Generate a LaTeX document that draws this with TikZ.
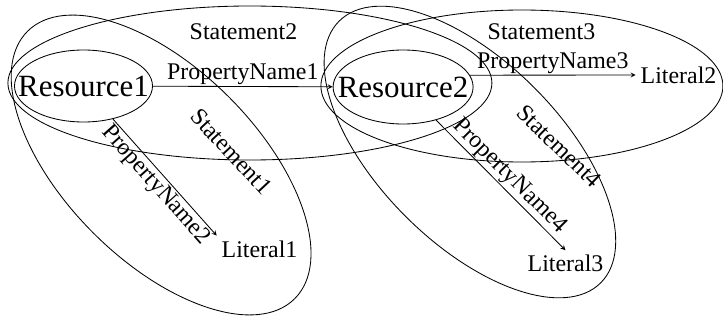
\documentclass[tikz,border=0pt]{standalone}
\usepackage{fontspec}
\setmainfont{Liberation Serif}
\usepackage{tikz}
\usetikzlibrary{shapes.geometric, arrows}
\tikzstyle{res} = [ellipse, minimum width=3.45cm, minimum height=1.8cm, inner xsep=-0.5cm, inner ysep=0pt, draw=black, line width=0.6pt, font=\fontsize{22}{26}\selectfont]
\tikzstyle{lit} = [rectangle, font=\fontsize{17}{20}\selectfont]
\tikzstyle{stmt} = [ellipse, inner sep=0pt, draw=black, line width=0.6pt]
\tikzstyle{stxt} = [font=\fontsize{17}{20}\selectfont]
\tikzstyle{lab} = [font=\fontsize{17}{20}\selectfont, inner sep=1pt]
\tikzstyle{arrow} = [line width=0.6pt,->,>=stealth]

\begin{document}
\begin{tikzpicture}
\useasboundingbox (-2.0875,-5.875) rectangle (15.9875,2.15);

% statements
\node (stm2) [stmt, minimum width=12.1cm, minimum height=3.85cm, xshift=4.16cm, yshift=0.075cm] {};
\node (stm3) [stmt, minimum width=10.05cm, minimum height=3.8cm, xshift=10.96cm] {};
\node (stm1) [stmt, minimum width=9.45cm, minimum height=4.8cm, xshift=1.94cm, yshift=-1.975cm, rotate=-45] {};
\node (stm4) [stmt, minimum width=9.25cm, minimum height=4.55cm, xshift=9.66cm, yshift=-1.65cm, rotate=-45] {};

\node (stm2txt) [stxt, xshift=4.0cm, yshift=1.35cm] {Statement2};
\node (stm3txt) [stxt, xshift=11.45cm, yshift=1.35cm] {Statement3};
\node (stm1txt) [stxt, xshift=3.7cm, yshift=-1.64cm, rotate=-47] {Statement1};
\node (stm4txt) [stxt, xshift=11.89cm, yshift=-1.5cm, rotate=-44] {Statement4};

% resources and literals
\node (res1) [res] {Resource1};
\node (res2) [res, minimum width=3.5cm, minimum height=1.85cm, xshift=7.99cm, yshift=-0.025cm] {Resource2};
\node (lit1) [lit, xshift=4.4cm, yshift=-4.075cm] {Literal1};
\node (lit2) [lit, xshift=14.875cm, yshift=0.275cm] {Literal2};
\node (lit3) [lit, xshift=12.05cm, yshift=-4.44cm] {Literal3};

\draw [arrow] (res1) -- node (pn1) [lab, above] {PropertyName1} (res2);
\draw [arrow] (res1) -- node (pn2) [lab, sloped, below] {PropertyName2} (lit1.north west);
\draw [arrow] (res2.10) -- node (pn3) [lab, above] {PropertyName3} (lit2.west);
\draw [arrow] (res2) -- node (pn4) [lab, sloped, above] {PropertyName4} (lit3.north);
\end{tikzpicture}
\end{document}
